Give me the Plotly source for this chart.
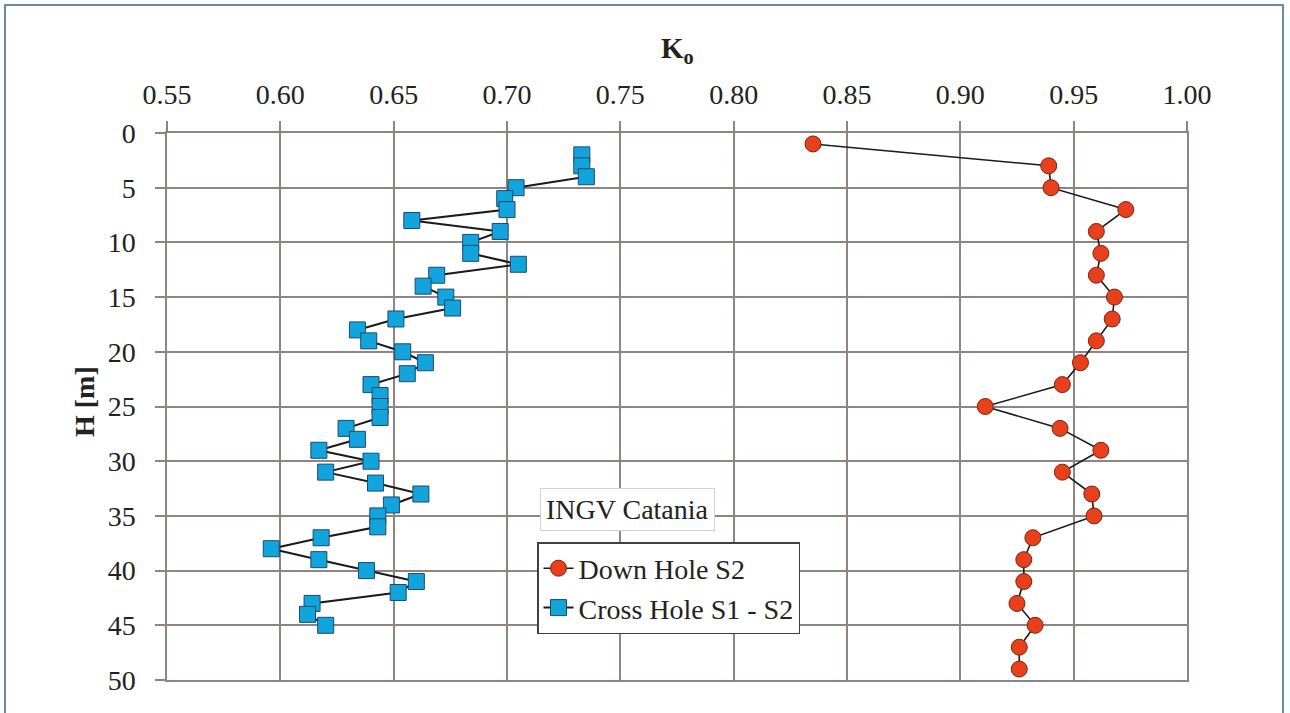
import plotly.graph_objects as go

# Down Hole S2 profile: depth [m] and K0
dh_depth = [1, 3, 5, 7, 9, 11, 13, 15, 17, 19, 21, 23, 25, 27, 29, 31, 33, 35,
            37, 39, 41, 43, 45, 47, 49]
dh_k0 = [0.835, 0.939, 0.940, 0.973, 0.960, 0.962, 0.960, 0.968, 0.967, 0.960,
         0.953, 0.945, 0.911, 0.944, 0.962, 0.945, 0.958, 0.959, 0.932, 0.928,
         0.928, 0.925, 0.933, 0.926, 0.926]

# Cross Hole S1 - S2 profile: depth [m] and K0
ch_depth = list(range(2, 46))
ch_k0 = [0.733, 0.733, 0.735, 0.704, 0.699, 0.700, 0.658, 0.697, 0.684, 0.684,
         0.705, 0.669, 0.663, 0.673, 0.676, 0.651, 0.634, 0.639, 0.654, 0.664,
         0.656, 0.640, 0.644, 0.644, 0.644, 0.629, 0.634, 0.617, 0.640, 0.620,
         0.642, 0.662, 0.649, 0.643, 0.643, 0.618, 0.596, 0.617, 0.638, 0.660,
         0.652, 0.614, 0.612, 0.620]

x_ticks = [0.55, 0.60, 0.65, 0.70, 0.75, 0.80, 0.85, 0.90, 0.95, 1.00]
y_ticks = [0, 5, 10, 15, 20, 25, 30, 35, 40, 45, 50]

SERIF = "Liberation Serif, Times New Roman, Tinos, serif"
GRID = "#8e8484"
TEXT = "#222222"

fig = go.Figure()

fig.add_trace(go.Scatter(
    x=dh_k0, y=dh_depth, mode="lines+markers", name="Down Hole S2",
    line=dict(color="#1a1a1a", width=1.6),
    marker=dict(symbol="circle", size=16, color="#e8401c",
                line=dict(color="#7a2410", width=1)),
))

fig.add_trace(go.Scatter(
    x=ch_k0, y=ch_depth, mode="lines+markers", name="Cross Hole S1 - S2",
    line=dict(color="#1a1a1a", width=2),
    marker=dict(symbol="square", size=16, color="#12a4dc",
                line=dict(color="#1d4a6b", width=1)),
))

L, R, T, B = 167, 103, 133, 33
W, H = 1290, 713
pw, ph = W - L - R, H - T - B


def px_x(p):
    return (p - L) / pw


def px_y(p):
    return (H - B - p) / ph


fig.update_layout(
    width=W, height=H,
    margin=dict(l=L, r=R, t=T, b=B, pad=0),
    paper_bgcolor="white", plot_bgcolor="white",
    font=dict(family=SERIF, size=28, color=TEXT),
    showlegend=True,
    legend=dict(
        x=px_x(537), y=px_y(542), xanchor="left", yanchor="top",
        bgcolor="white", bordercolor="#404040", borderwidth=1.5,
        font=dict(family=SERIF, size=28, color=TEXT),
        traceorder="normal", itemwidth=30, tracegroupgap=0,
    ),
    xaxis=dict(
        side="top", range=[0.55, 1.0], tickvals=x_ticks,
        ticktext=[f"{v:.2f}" for v in x_ticks],
        showgrid=True, gridcolor=GRID, gridwidth=1.5,
        ticks="outside", ticklen=10, tickcolor=GRID, tickwidth=1.5,
        showline=True, mirror=True, linecolor=GRID, linewidth=1.5,
        zeroline=False, ticklabelstandoff=6,
        tickfont=dict(family=SERIF, size=28, color=TEXT),
    ),
    yaxis=dict(
        range=[50, 0], tickvals=y_ticks,
        showgrid=True, gridcolor=GRID, gridwidth=1.5,
        ticks="outside", ticklen=10, tickcolor=GRID, tickwidth=1.5,
        showline=True, mirror=True, linecolor=GRID, linewidth=1.5,
        zeroline=False, ticklabelstandoff=14,
        tickfont=dict(family=SERIF, size=28, color=TEXT),
    ),
    annotations=[
        dict(text="<b>K<sub>o</sub></b>", xref="paper", yref="paper",
             x=0.5, y=px_y(50), xanchor="center", yanchor="middle",
             showarrow=False, font=dict(family=SERIF, size=29, color=TEXT)),
        dict(text="<b>H [m]</b>", xref="paper", yref="paper",
             x=px_x(84), y=px_y(402), xanchor="center", yanchor="middle",
             textangle=-90, showarrow=False,
             font=dict(family=SERIF, size=28, color=TEXT)),
        dict(text="INGV Catania", xref="paper", yref="paper",
             x=px_x(627), y=px_y(509), xanchor="center", yanchor="middle",
             showarrow=False, bgcolor="white", bordercolor="#d2d2d2",
             borderwidth=1, borderpad=5,
             font=dict(family=SERIF, size=28, color=TEXT)),
    ],
    shapes=[
        dict(type="rect", xref="paper", yref="paper",
             x0=px_x(5), x1=px_x(1283), y0=px_y(740), y1=px_y(5),
             line=dict(color="#3a6585", width=1.5), fillcolor="rgba(0,0,0,0)",
             layer="above"),
    ],
)

fig.write_html("out.html")
